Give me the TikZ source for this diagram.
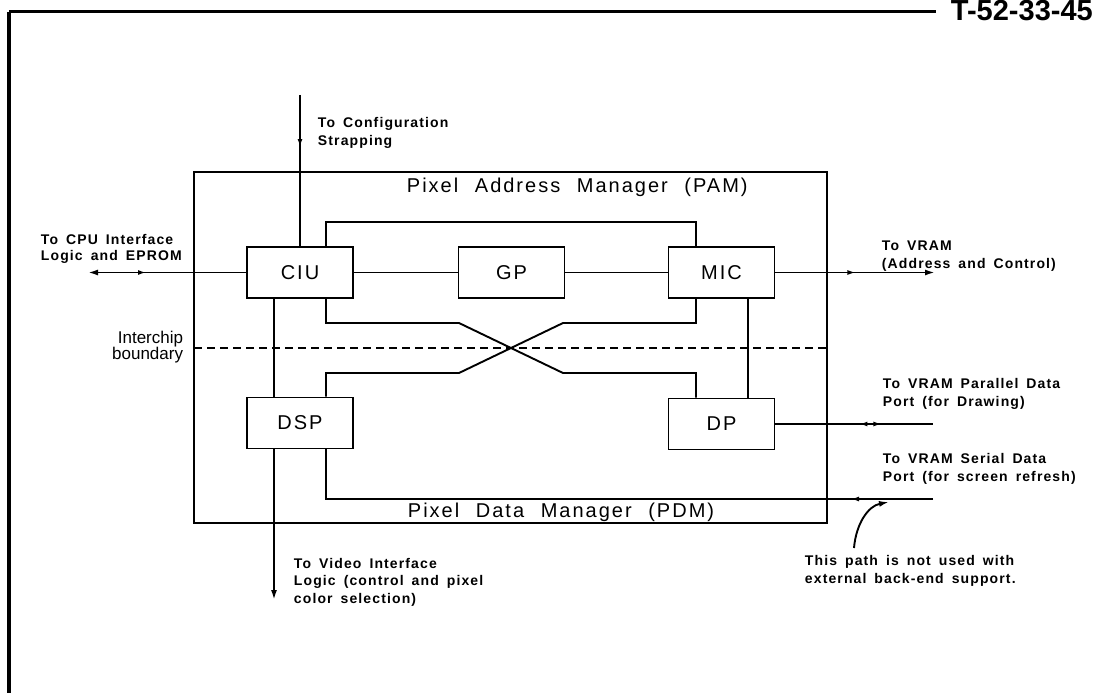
\documentclass[tikz,border=0pt]{standalone}
\usepackage{fontspec}
\setmainfont{Liberation Sans}
\newfontfamily\lblfont[LetterSpace=8,WordSpace=1.6]{Liberation Sans}
\newfontfamily\boxfont[LetterSpace=10,WordSpace=2.2]{Liberation Sans}
\newfontfamily\numfont{Liberation Sans}
\usetikzlibrary{arrows.meta,decorations.markings}
\begin{document}
\begin{tikzpicture}[x=1pt,y=-1pt,line width=1.9pt,
  blk/.style={draw,minimum width=106pt,minimum height=51pt,inner sep=0pt,
    font=\boxfont\fontsize{20}{20}\selectfont},
  lbl/.style={anchor=west,align=left,inner sep=0pt,
    font=\lblfont\bfseries\fontsize{14}{17.5}\selectfont},
  mgr/.style={anchor=west,inner sep=0pt,font=\boxfont\fontsize{20}{20}\selectfont},
  tip/.style={-{Latex[length=10pt,width=6pt]}},
  midf/.style={postaction={decorate},decoration={markings,
    mark=at position #1 with {\arrow{Latex[length=8pt,width=5pt]}}}},
  midr/.style={postaction={decorate},decoration={markings,
    mark=at position #1 with {\arrowreversed{Latex[length=8pt,width=5pt]}}}},
  bidir/.style={postaction={decorate},decoration={markings,
    mark=at position 84pt with {\arrowreversed{Latex[length=8pt,width=5pt]}},
    mark=at position 106pt with {\arrow{Latex[length=8pt,width=5pt]}}}}
]
\useasboundingbox (0,0) rectangle (1101,693);
\clip (0,0) rectangle (1101,693);

% page frame and reference number
\coordinate (fbl) at (9,693);
\coordinate (ftl) at (9,12);
\coordinate (ftr) at (936,12);
\draw[line width=4pt] (fbl) -- (ftl);
\draw[line width=3pt] (ftl) -- (ftr);
\node[anchor=base west,inner sep=0pt,font=\numfont\bfseries\fontsize{29}{29}\selectfont] (num) at (950,21) {T-52-33-45};

% outer PAM/PDM box
\node[draw,minimum width=633pt,minimum height=351pt,inner sep=0pt] (outer) at (510.5,347.5) {};
\node[mgr] (pam) at (406,187) {Pixel Address Manager (PAM)};
\node[mgr] (pdm) at (407,512) {Pixel Data Manager (PDM)};

% blocks
\node[blk] (ciu) at (300,272.5) {CIU};
\node[blk] (gp)  at (511.5,272.5) {GP};
\node[blk] (mic) at (721.5,272.5) {MIC};
\node[blk] (dsp) at (300,423) {DSP};
\node[blk] (dp)  at (721.5,424) {DP};

% internal connections
\draw (ciu) -- (gp);
\draw (gp) -- (mic);
\draw ([xshift=26pt]ciu.north) |- (511,222) -| ([xshift=-25.5pt]mic.north);
\draw ([xshift=26pt]ciu.south) |- (459,323) -- (563,373) -| ([xshift=-25.5pt]dp.north);
\draw ([xshift=-25.5pt]mic.south) |- (563,323) -- (459,373) -| ([xshift=26pt]dsp.north);
\draw ([xshift=-26pt]ciu.south) -- ([xshift=-26pt]dsp.north);
\draw ([xshift=26.5pt]mic.south) -- ([xshift=26.5pt]dp.north);

% interchip boundary
\coordinate (dl) at (194,348);
\coordinate (dr) at (827,348);
\draw[dash pattern=on 8pt off 5pt] (dl) -- (dr);
\node[anchor=east,align=right,inner sep=0pt,font=\fontsize{17}{16.5}\selectfont] (ib) at (184,347) {Interchip\\boundary};

% external connections
\coordinate (cfg) at (300,95);
\draw[midf=52pt] (cfg) -- (ciu.north);
\node[lbl] (cfgl) at (317,133) {To Configuration\\Strapping};

\coordinate (cpu) at (88,272.5);
\draw[tip,midr=100pt] (ciu.west) -- (cpu);
\node[lbl,font=\lblfont\bfseries\fontsize{14}{15.5}\selectfont] (cpul) at (40,249) {To CPU Interface\\Logic and EPROM};

\coordinate (vram) at (935,272.5);
\draw[tip,midf=80pt] (mic.east) -- (vram);
\node[lbl] (vraml) at (881,256) {To VRAM\\(Address and Control)};

\coordinate (par) at (933,424);
\draw[bidir] (dp.east) -- (par);
\node[lbl] (parl) at (882,394) {To VRAM Parallel Data\\Port (for Drawing)};

\coordinate (ser) at (933,499);
\draw[midf=82pt] (ser) -| ([xshift=26pt]dsp.south);
\node[lbl] (serl) at (882,469) {To VRAM Serial Data\\Port (for screen refresh)};

\coordinate (vid) at (274,600);
\draw[tip] ([xshift=-26pt]dsp.south) -- (vid);
\node[lbl] (vidl) at (293,582) {To Video Interface\\Logic (control and pixel\\color selection)};

% note
\node[lbl] (note) at (804,571) {This path is not used with\\external back-end support.};
\coordinate (ns) at (854,548);
\coordinate (nt) at (889,502);
\draw[tip] (ns) .. controls (856,524) and (868,506) .. (nt);
\end{tikzpicture}
\end{document}
